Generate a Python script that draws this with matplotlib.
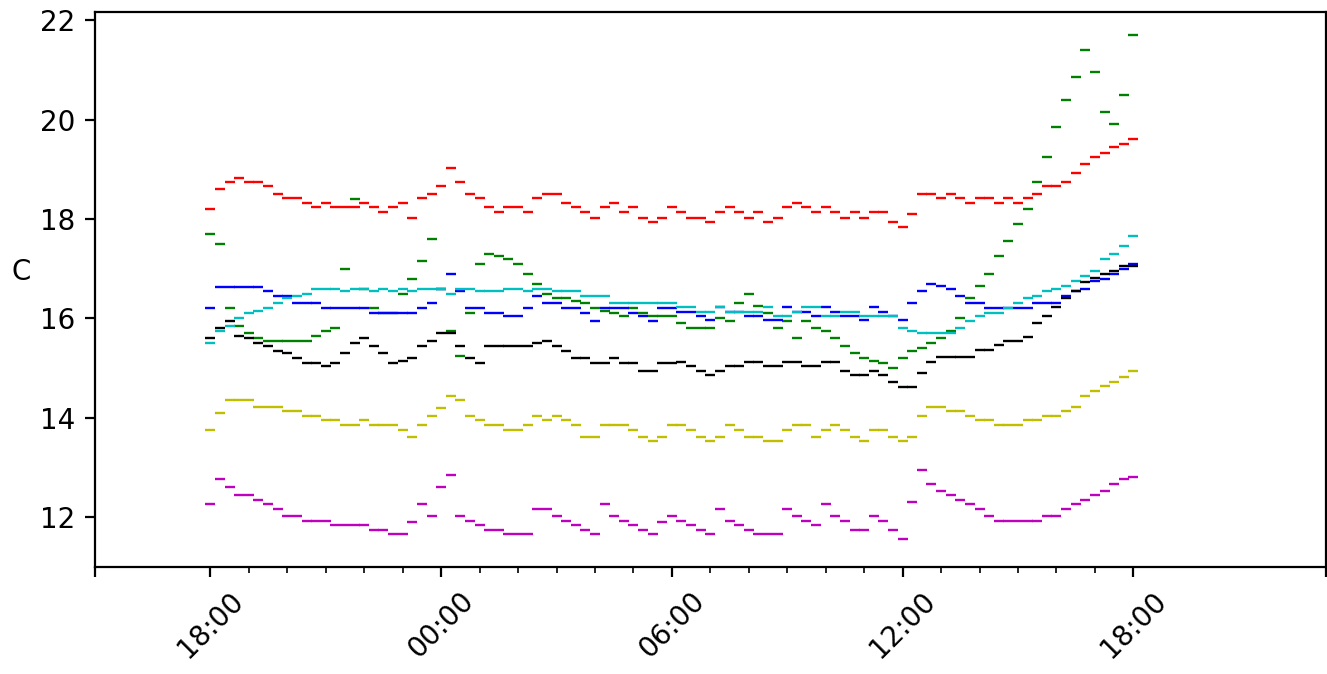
# libraries
import numpy as np
import pandas as pd
import matplotlib
matplotlib.use('Agg')
import matplotlib.pyplot as plt

# sample times, one reading every 15 minutes over 24 hours
times = pd.date_range('2021-03-01 18:00', periods=97, freq='15min')

# sensor temperatures
red = [18.2, 18.6, 18.75, 18.83, 18.75, 18.75, 18.66, 18.51, 18.42, 18.42,
       18.33, 18.24, 18.33, 18.24, 18.24, 18.24, 18.33, 18.24, 18.14, 18.24,
       18.33, 18.01, 18.42, 18.51, 18.66, 19.02, 18.75, 18.51, 18.42, 18.24,
       18.14, 18.24, 18.24, 18.14, 18.42, 18.51, 18.51, 18.33, 18.24, 18.14,
       18.01, 18.24, 18.33, 18.14, 18.24, 18.01, 17.94, 18.01, 18.24, 18.14,
       18.01, 18.01, 17.94, 18.14, 18.24, 18.14, 18.01, 18.14, 17.94, 18.01,
       18.24, 18.33, 18.24, 18.14, 18.24, 18.14, 18.01, 18.14, 18.01, 18.14,
       18.14, 17.94, 17.83, 18.1, 18.51, 18.51, 18.42, 18.51, 18.42, 18.33,
       18.42, 18.42, 18.33, 18.42, 18.33, 18.42, 18.51, 18.66, 18.66, 18.75,
       18.93, 19.1, 19.25, 19.33, 19.45, 19.5, 19.6]

green = [17.7, 17.5, 16.2, 15.85, 15.7, 15.6, 15.54, 15.54, 15.54, 15.54,
         15.54, 15.65, 15.75, 15.8, 17.0, 18.4, 16.6, 16.2, 16.1, 16.1,
         16.5, 16.8, 17.15, 17.6, 16.6, 15.75, 15.25, 16.1, 17.1, 17.3,
         17.25, 17.2, 17.1, 16.9, 16.7, 16.5, 16.4, 16.4, 16.35, 16.3,
         16.2, 16.15, 16.1, 16.05, 16.2, 16.1, 16.05, 16.05, 16.05, 15.9,
         15.8, 15.8, 15.8, 16.0, 15.95, 16.3, 16.5, 16.25, 16.1, 15.8,
         15.95, 15.6, 15.95, 15.8, 15.75, 15.6, 15.45, 15.3, 15.2, 15.15,
         15.1, 15.0, 15.2, 15.35, 15.4, 15.5, 15.6, 15.75, 16.0, 16.4,
         16.65, 16.9, 17.25, 17.55, 17.9, 18.2, 18.75, 19.25, 19.85, 20.4,
         20.85, 21.4, 20.95, 20.15, 19.9, 20.5, 21.7]

blue = [16.2, 16.63, 16.63, 16.63, 16.63, 16.63, 16.55, 16.45, 16.45, 16.3,
        16.3, 16.3, 16.2, 16.2, 16.2, 16.2, 16.2, 16.1, 16.1, 16.1,
        16.1, 16.1, 16.2, 16.3, 16.6, 16.9, 16.55, 16.2, 16.2, 16.1,
        16.1, 16.05, 16.05, 16.2, 16.45, 16.3, 16.3, 16.2, 16.2, 16.1,
        15.95, 16.2, 16.2, 16.2, 16.1, 16.05, 15.95, 16.2, 16.2, 16.13,
        16.13, 16.05, 15.96, 16.23, 16.13, 16.13, 16.05, 16.05, 15.96, 15.96,
        16.23, 16.13, 16.13, 16.05, 16.23, 16.13, 16.05, 16.05, 15.96, 16.23,
        16.13, 16.05, 15.96, 16.3, 16.55, 16.7, 16.65, 16.6, 16.45, 16.3,
        16.3, 16.2, 16.2, 16.2, 16.2, 16.2, 16.3, 16.3, 16.3, 16.45,
        16.55, 16.6, 16.75, 16.8, 16.9, 17.0, 17.1]

cyan = [15.5, 15.75, 15.85, 16.0, 16.1, 16.15, 16.2, 16.3, 16.4, 16.45,
        16.5, 16.6, 16.6, 16.6, 16.55, 16.6, 16.6, 16.55, 16.6, 16.55,
        16.6, 16.55, 16.6, 16.6, 16.6, 16.5, 16.6, 16.6, 16.55, 16.55,
        16.55, 16.6, 16.6, 16.55, 16.6, 16.6, 16.55, 16.55, 16.55, 16.45,
        16.45, 16.45, 16.3, 16.3, 16.3, 16.3, 16.3, 16.3, 16.3, 16.23,
        16.23, 16.13, 16.13, 16.23, 16.13, 16.13, 16.13, 16.13, 16.23, 16.05,
        16.05, 16.13, 16.23, 16.23, 16.05, 16.05, 16.13, 16.13, 16.05, 16.05,
        16.05, 16.05, 15.8, 15.75, 15.7, 15.7, 15.7, 15.7, 15.8, 15.95,
        16.05, 16.1, 16.1, 16.2, 16.3, 16.4, 16.45, 16.55, 16.6, 16.65,
        16.75, 16.85, 16.95, 17.2, 17.3, 17.45, 17.65]

black = [15.6, 15.8, 15.95, 15.65, 15.6, 15.5, 15.45, 15.35, 15.3, 15.2,
         15.1, 15.1, 15.05, 15.1, 15.3, 15.5, 15.6, 15.45, 15.3, 15.1,
         15.15, 15.2, 15.45, 15.55, 15.7, 15.7, 15.45, 15.2, 15.1, 15.45,
         15.45, 15.45, 15.45, 15.45, 15.5, 15.55, 15.45, 15.35, 15.2, 15.2,
         15.1, 15.1, 15.2, 15.1, 15.1, 14.95, 14.95, 15.1, 15.1, 15.13,
         15.04, 14.94, 14.86, 14.94, 15.04, 15.04, 15.13, 15.13, 15.04, 15.04,
         15.13, 15.13, 15.04, 15.04, 15.13, 15.13, 14.94, 14.86, 14.86, 14.94,
         14.86, 14.72, 14.62, 14.62, 14.9, 15.13, 15.23, 15.23, 15.23, 15.23,
         15.36, 15.36, 15.46, 15.55, 15.55, 15.63, 15.9, 16.05, 16.23, 16.4,
         16.55, 16.73, 16.82, 16.9, 16.95, 17.05, 17.05]

yellow = [13.76, 14.1, 14.35, 14.35, 14.35, 14.22, 14.22, 14.22, 14.13, 14.13,
          14.04, 14.04, 13.95, 13.95, 13.86, 13.86, 13.95, 13.86, 13.86, 13.86,
          13.76, 13.62, 13.86, 14.04, 14.2, 14.44, 14.35, 14.04, 13.95, 13.86,
          13.86, 13.76, 13.76, 13.86, 14.04, 13.95, 14.04, 13.95, 13.86, 13.62,
          13.62, 13.86, 13.86, 13.86, 13.76, 13.62, 13.53, 13.62, 13.86, 13.86,
          13.76, 13.62, 13.53, 13.62, 13.86, 13.76, 13.62, 13.62, 13.53, 13.53,
          13.76, 13.86, 13.86, 13.62, 13.76, 13.86, 13.76, 13.62, 13.53, 13.76,
          13.76, 13.62, 13.53, 13.62, 14.04, 14.22, 14.22, 14.13, 14.13, 14.04,
          13.95, 13.95, 13.86, 13.86, 13.86, 13.95, 13.95, 14.04, 14.04, 14.13,
          14.22, 14.44, 14.53, 14.63, 14.72, 14.82, 14.95]

magenta = [12.26, 12.76, 12.6, 12.44, 12.44, 12.35, 12.26, 12.17, 12.03, 12.03,
           11.93, 11.93, 11.93, 11.85, 11.85, 11.85, 11.85, 11.75, 11.75, 11.66,
           11.66, 11.9, 12.26, 12.03, 12.6, 12.85, 12.03, 11.93, 11.85, 11.75,
           11.75, 11.66, 11.66, 11.66, 12.17, 12.17, 12.03, 11.93, 11.85, 11.75,
           11.66, 12.26, 12.03, 11.93, 11.85, 11.75, 11.66, 11.9, 12.03, 11.93,
           11.85, 11.75, 11.66, 12.17, 11.93, 11.85, 11.75, 11.66, 11.66, 11.66,
           12.17, 12.03, 11.93, 11.85, 12.26, 12.03, 11.93, 11.75, 11.75, 12.03,
           11.93, 11.75, 11.56, 12.3, 12.95, 12.67, 12.53, 12.44, 12.35, 12.26,
           12.17, 12.03, 11.93, 11.93, 11.93, 11.93, 11.93, 12.03, 12.03, 12.17,
           12.26, 12.35, 12.44, 12.53, 12.67, 12.76, 12.8]

series = [(red, 'r'), (green, 'g'), (blue, 'b'), (cyan, 'c'),
          (black, 'k'), (yellow, 'y'), (magenta, 'm')]

fig = plt.figure(figsize=(1327 / 200, 674 / 200), dpi=200)
ax = fig.add_axes([0.0716, 0.1588, 0.9274, 0.8232])

for vals, col in series:
    ax.plot(times, vals, linestyle='none', marker='_', markersize=3.6,
            markeredgewidth=0.85, color=col)

# axis range
ax.set_xlim(pd.Timestamp('2021-03-01 15:00'), pd.Timestamp('2021-03-02 23:00'))
ax.set_ylim(11.0, 22.16)
ax.set_yticks([12, 14, 16, 18, 20, 22])

# x ticks: labelled every 6 hours, unlabelled at the edges, minor every hour
major = pd.to_datetime(['2021-03-01 15:00', '2021-03-01 18:00', '2021-03-02 00:00',
                        '2021-03-02 06:00', '2021-03-02 12:00', '2021-03-02 18:00',
                        '2021-03-02 23:00'])
major_labels = ['', '18:00', '00:00', '06:00', '12:00', '18:00', '']
ax.set_xticks(major)
ax.set_xticklabels(major_labels, rotation=45)
ax.set_xticks(pd.date_range('2021-03-01 18:00', '2021-03-02 18:00', freq='1h'), minor=True)

ax.set_ylabel('C', rotation=0, va='center', ha='center')
ax.yaxis.set_label_coords(-0.06, 0.532)

fig.savefig('out.png', dpi=200)
